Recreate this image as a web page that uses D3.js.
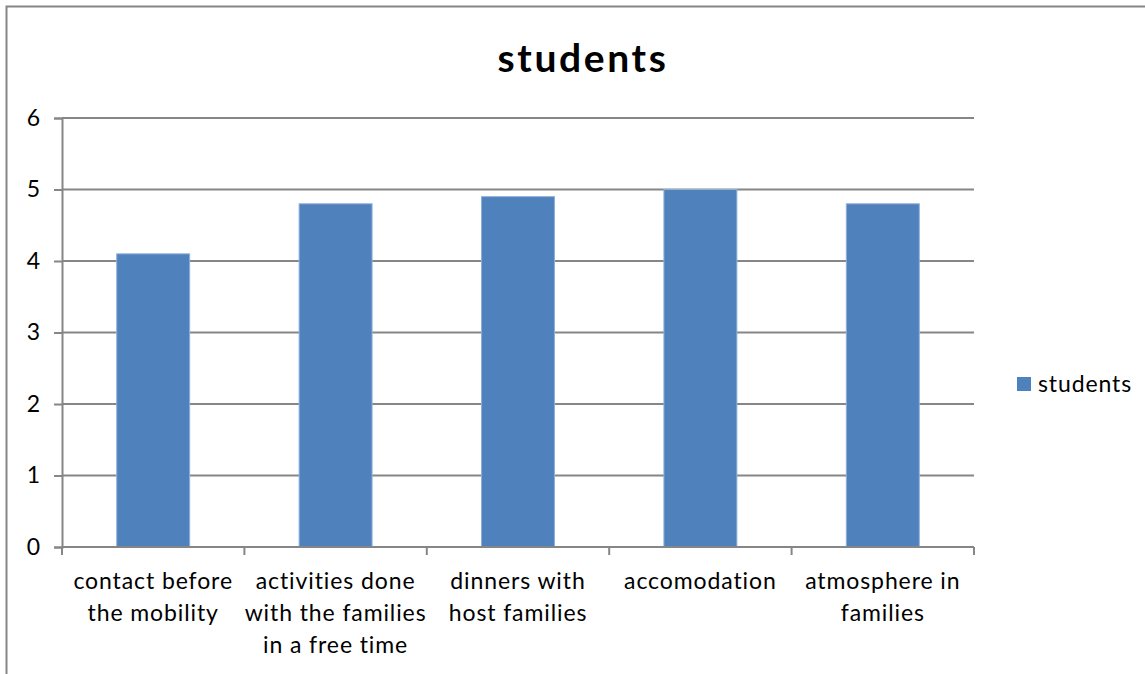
<!DOCTYPE html>
<html>
<head>
<meta charset="utf-8">
<script src="https://cdn.jsdelivr.net/npm/d3@7"></script>
<style>
  html, body { margin: 0; padding: 0; background: #fff; }
  svg { display: block; }
  text { font-family: Lato, "Open Sans", "Liberation Sans", sans-serif; fill: #000; }
</style>
</head>
<body>
<svg id="chart" width="1145" height="674"></svg>
<script>
// Survey results: average rating per aspect of the host-family stay
const categories = [
  ["contact before", "the mobility"],
  ["activities done", "with the families", "in a free time"],
  ["dinners with", "host families"],
  ["accomodation"],
  ["atmosphere in", "families"]
];
const seriesName = "students";
const values = [4.1, 4.8, 4.9, 5.0, 4.8];
const yTicks = [0, 1, 2, 3, 4, 5, 6];

const svg = d3.select("#chart");
const W = 1145, H = 674;
const plot = { left: 62, right: 974, top: 118, bottom: 547 };
const gridColor = "#868686";
const barColor = "#4F81BD";
const labelFont = 23;
const labelSpacing = "0.9px";

// outer chart frame
svg.append("path")
  .attr("d", `M6.5,${H} V6.5 H${W}`)
  .attr("fill", "none")
  .attr("stroke", gridColor)
  .attr("stroke-width", 2);

// title
svg.append("text")
  .attr("x", 583).attr("y", 72)
  .attr("text-anchor", "middle")
  .attr("font-size", 39)
  .attr("font-weight", "bold")
  .attr("letter-spacing", "2.6px")
  .text(seriesName);

const labelKeys = categories.map((c, i) => i);
const x = d3.scaleBand()
  .domain(labelKeys)
  .range([plot.left, plot.right])
  .paddingInner(0.6)
  .paddingOuter(0.3);

const y = d3.scaleLinear()
  .domain([0, 6])
  .range([plot.bottom, plot.top]);

// horizontal gridlines
svg.append("g")
  .selectAll("line")
  .data(yTicks.filter(t => t > 0))
  .join("line")
  .attr("x1", plot.left).attr("x2", plot.right)
  .attr("y1", d => y(d)).attr("y2", d => y(d))
  .attr("stroke", gridColor)
  .attr("stroke-width", 2);

// bars
svg.append("g")
  .selectAll("rect")
  .data(values)
  .join("rect")
  .attr("x", (d, i) => x(i))
  .attr("y", d => y(d))
  .attr("width", x.bandwidth())
  .attr("height", d => y(0) - y(d))
  .attr("fill", barColor)
  .attr("stroke", "#8fb0d8")
  .attr("stroke-width", 1);

// y axis
const yAxis = svg.append("g")
  .attr("transform", `translate(${plot.left},0)`)
  .call(d3.axisLeft(y).tickValues(yTicks).tickFormat(d3.format("d")).tickSize(8).tickPadding(14));
yAxis.select(".domain").attr("stroke", gridColor).attr("stroke-width", 2);
yAxis.selectAll(".tick line").attr("stroke", gridColor).attr("stroke-width", 2);
yAxis.selectAll(".tick text")
  .attr("font-size", labelFont)
  .attr("font-family", "Lato, 'Open Sans', sans-serif")
  .attr("fill", "#000");

// x axis line with boundary ticks between categories
const boundaries = d3.range(categories.length + 1)
  .map(i => plot.left + i * x.step());
const xg = svg.append("g");
xg.append("line")
  .attr("x1", plot.left).attr("x2", plot.right)
  .attr("y1", plot.bottom).attr("y2", plot.bottom)
  .attr("stroke", gridColor).attr("stroke-width", 2);
xg.selectAll("line.tick")
  .data(boundaries)
  .join("line")
  .attr("class", "tick")
  .attr("x1", d => d).attr("x2", d => d)
  .attr("y1", plot.bottom).attr("y2", plot.bottom + 8)
  .attr("stroke", gridColor).attr("stroke-width", 2);

// category labels (wrapped lines)
const lab = xg.selectAll("text.cat")
  .data(categories)
  .join("text")
  .attr("class", "cat")
  .attr("text-anchor", "middle")
  .attr("font-size", labelFont)
  .attr("letter-spacing", labelSpacing);
lab.selectAll("tspan")
  .data((d, i) => d.map(line => ({ line, i })))
  .join("tspan")
  .attr("x", d => x(d.i) + x.bandwidth() / 2)
  .attr("y", (d, j) => 589 + j * 32)
  .text(d => d.line);

// legend
const lg = svg.append("g");
lg.append("rect")
  .attr("x", 1017).attr("y", 377)
  .attr("width", 14).attr("height", 14)
  .attr("fill", barColor);
lg.append("text")
  .attr("x", 1038).attr("y", 392)
  .attr("font-size", labelFont)
  .attr("letter-spacing", labelSpacing)
  .text(seriesName);
</script>
</body>
</html>
